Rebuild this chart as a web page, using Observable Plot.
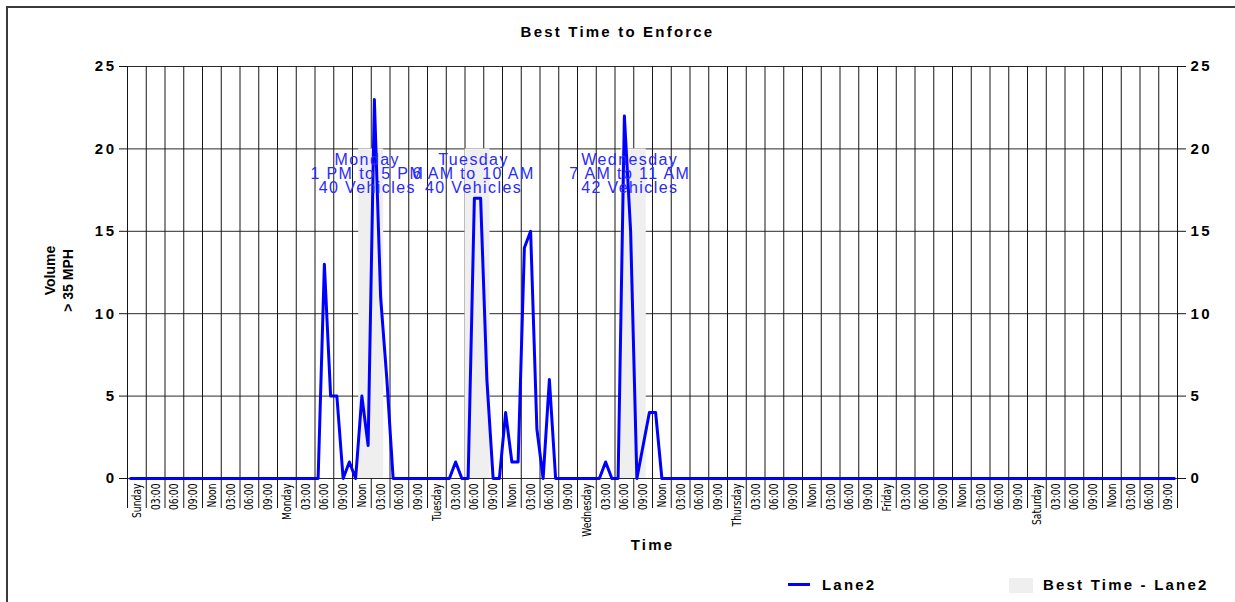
<!DOCTYPE html>
<html>
<head>
<meta charset="utf-8">
<script src="https://cdn.jsdelivr.net/npm/d3@7"></script>
<script src="https://cdn.jsdelivr.net/npm/@observablehq/plot@0.6"></script>
<style>
  html, body { margin: 0; padding: 0; background: #fff; }
  #wrap { position: relative; width: 1235px; height: 602px; overflow: hidden; font-family: "Liberation Sans", Arial, sans-serif; }
  #wrap svg { position: absolute; left: 0; top: 0; }
  #frame { position: absolute; left: 6px; top: 6px; width: 1260px; height: 620px; border-top: 2px solid #3a3a3a; border-left: 2px solid #3a3a3a; }
  .lbl { position: absolute; font-weight: bold; font-size: 15px; line-height: 15px; letter-spacing: 2.2px; color: #000; white-space: nowrap; }
  #title { left: 0; width: 1235px; text-align: center; top: 24px; }
  #legLine { position: absolute; left: 788px; top: 583px; width: 22px; height: 3px; background: #0000ff; }
  #legRect { position: absolute; left: 1009px; top: 578px; width: 24px; height: 15px; background: #efefef; }
  g[aria-description="annotation"] text { letter-spacing: 1.4px; }
  g[aria-label="y-axis tick label"] text { letter-spacing: 2.5px; }
  g[aria-description="axis-title"] text { letter-spacing: 2.2px; }
</style>
</head>
<body>
<div id="wrap"></div>
<script>
// ---- data ----
const dayNames   = ["Sunday", "Monday", "Tuesday", "Wednesday", "Thursday", "Friday", "Saturday"];
const timeLabels = ["03:00", "06:00", "09:00", "Noon", "03:00", "06:00", "09:00"];

// hourly volume > 35 MPH, Lane2 (24 values per day)
const sunday    = [0,0,0,0,0,0,0,0,0,0,0,0,0,0,0,0,0,0,0,0,0,0,0,0];
const monday    = [0,0,0,0,0,0,0,13,5,5,0,1,0,5,2,23,11,6,0,0,0,0,0,0];
const tuesday   = [0,0,0,0,1,0,0,17,17,6,0,0,4,1,1,14,15,3,0,6,0,0,0,0];
const wednesday = [0,0,0,0,1,0,0,22,15,0,2,4,4,0,0,0,0,0,0,0,0,0,0,0];
const thursday  = [0,0,0,0,0,0,0,0,0,0,0,0,0,0,0,0,0,0,0,0,0,0,0,0];
const friday    = [0,0,0,0,0,0,0,0,0,0,0,0,0,0,0,0,0,0,0,0,0,0,0,0];
const saturday  = [0,0,0,0,0,0,0,0,0,0,0,0,0,0,0,0,0,0,0,0,0,0,0,0];

const yTicks = [0, 5, 10, 15, 20, 25];

// best time windows
const bestDay    = ["Monday", "Tuesday", "Wednesday"];
const bestStart  = [13, 6, 7];          // hour of day
const bestRange  = ["1 PM to 5 PM", "6 AM to 10 AM", "7 AM to 11 AM"];
const bestCount  = [40, 40, 42];
const bestLength = 4;                   // hours
const bestHeight = 20;                  // shaded band height

const titleText  = "Best Time to Enforce";
const xTitle     = "Time";
const yTitle1    = "Volume";
const yTitle2    = "> 35 MPH";
const legendLine = "Lane2";
const legendBand = "Best Time - Lane2";

// ---- build tables ----
const values = [sunday, monday, tuesday, wednesday, thursday, friday, saturday].flat();
const series = values.map((v, h) => ({h, v}));
const tickHours = d3.range(0, 7 * 24 + 1, 3);
const tickLabels = dayNames.flatMap((d, i) =>
  [d, ...timeLabels].map((t, j) => ({h: i * 24 + j * 3, label: t})));
const best = bestDay.map((d, i) => ({
  day: d,
  start: dayNames.indexOf(d) * 24 + bestStart[i],
  range: bestRange[i],
  count: bestCount[i]
}));

const grid = "#161616";
const chart = Plot.plot({
  width: 1235,
  height: 602,
  marginLeft: 127,
  marginRight: 58,
  marginTop: 66,
  marginBottom: 124,
  x: {domain: [0, 168]},
  y: {domain: [0, 25]},
  style: {fontFamily: "'Liberation Sans', Arial, sans-serif", background: "transparent", color: "#000"},
  marks: [
    Plot.gridY({ticks: yTicks, stroke: "#2a2a2a", strokeOpacity: 1}),
    Plot.gridX({ticks: tickHours, stroke: grid, strokeOpacity: 1}),
    Plot.rect(best, {
      x1: d => d.start, x2: d => d.start + bestLength,
      y1: () => 0, y2: () => bestHeight,
      fill: "#efefef"
    }),
    Plot.line(series, {x: d => d.h + 0.5, y: "v", stroke: "#0000ff", strokeWidth: 3}),
    Plot.text(best, {
      x: d => d.start + bestLength / 2,
      y: () => bestHeight,
      text: d => `${d.day}\n${d.range}\n${d.count} Vehicles`,
      lineAnchor: "top", lineHeight: 0.875,
      dx: -4, dy: 6,
      fill: "#2a2aff", fontSize: 16,
      ariaDescription: "annotation"
    }),
    Plot.axisY({anchor: "left", ticks: yTicks, tickSize: 8, tickPadding: 3, fontSize: 15, fontWeight: "bold", label: null, stroke: grid}),
    Plot.axisY({anchor: "right", ticks: yTicks, tickSize: 8, tickPadding: 5, fontSize: 15, fontWeight: "bold", label: null, stroke: grid}),
    Plot.axisX({ticks: tickHours, tickSize: 30, tickFormat: () => "", label: null, stroke: grid}),
    Plot.text(tickLabels, {
      x: d => d.h + 1.5, text: "label",
      frameAnchor: "bottom", rotate: -90,
      textAnchor: "end", lineAnchor: "middle",
      dy: 5, fontSize: 12.5,
      fontFamily: "'Liberation Sans Narrow', 'Arial Narrow', 'DejaVu Sans Condensed', sans-serif",
      ariaDescription: "tick-label"
    }),
    Plot.text([xTitle], {text: d => d, frameAnchor: "bottom", dy: 71, fontSize: 15, fontWeight: "bold", ariaDescription: "axis-title"}),
    Plot.text([yTitle1], {text: d => d, frameAnchor: "left", textAnchor: "middle", rotate: -90, dx: -77, dy: -2, fontSize: 14, fontWeight: "bold"}),
    Plot.text([yTitle2], {text: d => d, frameAnchor: "left", textAnchor: "middle", rotate: -90, dx: -59, dy: 8, fontSize: 14, fontWeight: "bold"})
  ]
});

const wrap = document.getElementById("wrap");
wrap.appendChild(chart);

// condense the rotated tick labels to the narrow face of the reference
d3.select(chart).selectAll('g[aria-description="tick-label"] text').each(function () {
  const len = this.getComputedTextLength();
  if (len > 0) {
    this.setAttribute("textLength", (len * 0.82).toFixed(1));
    this.setAttribute("lengthAdjust", "spacingAndGlyphs");
  }
});

const frame = document.createElement("div"); frame.id = "frame"; wrap.appendChild(frame);
const t = document.createElement("div"); t.id = "title"; t.className = "lbl"; t.textContent = titleText; wrap.appendChild(t);
const ll = document.createElement("div"); ll.id = "legLine"; wrap.appendChild(ll);
const lt = document.createElement("div"); lt.className = "lbl"; lt.style.left = "822px"; lt.style.top = "577px"; lt.textContent = legendLine; wrap.appendChild(lt);
const lr = document.createElement("div"); lr.id = "legRect"; wrap.appendChild(lr);
const lt2 = document.createElement("div"); lt2.className = "lbl"; lt2.style.left = "1043px"; lt2.style.top = "577px"; lt2.textContent = legendBand; wrap.appendChild(lt2);
</script>
</body>
</html>
